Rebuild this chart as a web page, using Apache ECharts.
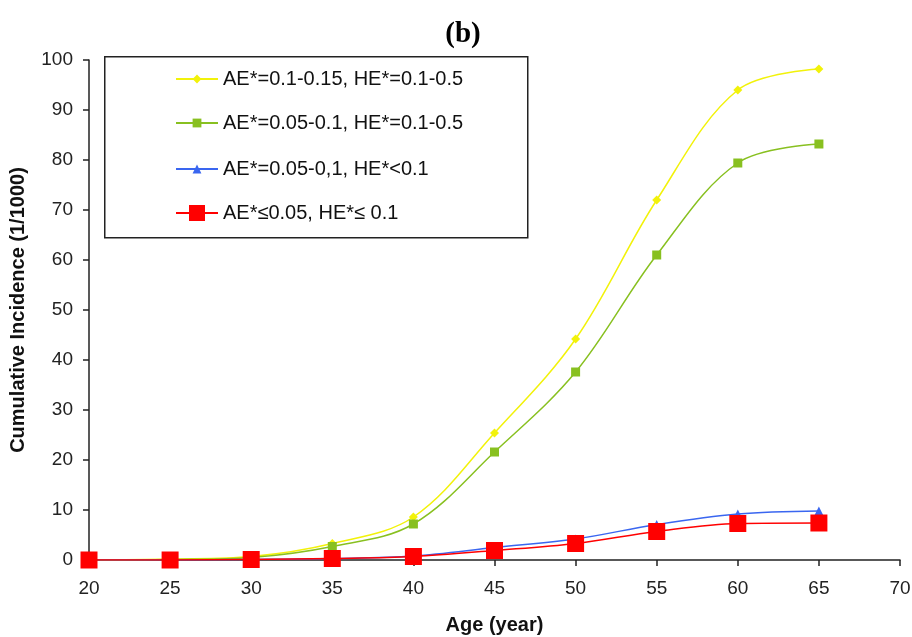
<!DOCTYPE html>
<html><head><meta charset="utf-8">
<script src="https://cdn.jsdelivr.net/npm/echarts@6/dist/echarts.min.js"></script>
<style>html,body{margin:0;padding:0;background:#fff}#c{width:912px;height:637px}</style>
</head><body><div id="c"></div>
<script>
const ages = [20,25,30,35,40,45,50,55,60,65];
const seriesNames = ['AE*=0.1-0.15, HE*=0.1-0.5','AE*=0.05-0.1, HE*=0.1-0.5','AE*=0.05-0,1, HE*<0.1','AE*≤0.05, HE*≤ 0.1'];
const yellowVals = [0,0.2,0.7,3.3,8.6,25.4,44.2,72,94,98.2];
const greenVals  = [0,0.1,0.5,2.7,7.2,21.6,37.6,61,79.4,83.2];
const blueVals   = [0,0,0.1,0.3,0.8,2.5,4.2,7.1,9.2,9.8];
const redVals    = [0,0,0.1,0.3,0.7,1.9,3.3,5.7,7.3,7.4];
const xTicks = {min:20,max:70,interval:5};
const yTicks = {min:0,max:100,interval:10};

const pair = v => ages.map((a,i)=>[a,v[i]]);
const chart = echarts.init(document.getElementById('c'));
const font = 'Liberation Sans, Arial, sans-serif';
function mk(name, vals, color, symbol, size){
  return {name, type:'line', data:pair(vals), smooth:0.35, symbol, symbolSize:size,
    lineStyle:{color, width:1.5}, itemStyle:{color}, emphasis:{disabled:true}};
}
const legendCenters = [79,123,169,213];
const legendIconH = [11,11,11,20];
const legends = seriesNames.map((n,i)=>({
  orient:'vertical', left:175, top:legendCenters[i]-10, padding:0,
  itemWidth:42, itemHeight:legendIconH[i],
  textStyle:{fontFamily:font, fontSize:20, lineHeight:20, color:'#111'},
  data:[n]
}));
chart.setOption({
  animation:false,
  title:{text:'(b)', left:458, top:15, textAlign:'center',
    textStyle:{fontFamily:'Liberation Serif, Times New Roman, serif', fontWeight:'bold', fontSize:29, color:'#000'}},
  grid:{left:89, right:12, top:60, bottom:77, outerBoundsMode:'none', containLabel:false},
  graphic:[{type:'rect', left:104, top:56, z:-1,
    shape:{width:423, height:181}, style:{fill:'#fff', stroke:'#222', lineWidth:1.5}}],
  legend:legends,
  xAxis:{type:'value', min:xTicks.min, max:xTicks.max, interval:xTicks.interval,
    name:'Age (year)', nameLocation:'middle', nameGap:55,
    nameTextStyle:{fontFamily:font, fontWeight:'bold', fontSize:20, color:'#111'},
    axisLine:{lineStyle:{color:'#222', width:1.5}}, axisTick:{show:true, length:6, lineStyle:{color:'#222', width:1.5}},
    axisLabel:{fontFamily:font, fontSize:19, color:'#222', margin:19}, splitLine:{show:false}},
  yAxis:{type:'value', min:yTicks.min, max:yTicks.max, interval:yTicks.interval,
    name:'Cumulative Incidence (1/1000)', nameLocation:'middle', nameGap:61,
    nameTextStyle:{fontFamily:font, fontWeight:'bold', fontSize:20, color:'#111'},
    axisLine:{show:true, lineStyle:{color:'#222', width:1.5}}, axisTick:{show:true, length:6, lineStyle:{color:'#222', width:1.5}},
    axisLabel:{fontFamily:font, fontSize:19, color:'#222', margin:16}, splitLine:{show:false}},
  series:[
    mk(seriesNames[0], yellowVals, '#f2f20a', 'diamond', 9),
    mk(seriesNames[1], greenVals, '#88c020', 'rect', 9),
    mk(seriesNames[2], blueVals, '#3a66f0', 'triangle', 9),
    mk(seriesNames[3], redVals, '#ff0000', 'rect', 17)
  ]
});
</script></body></html>
